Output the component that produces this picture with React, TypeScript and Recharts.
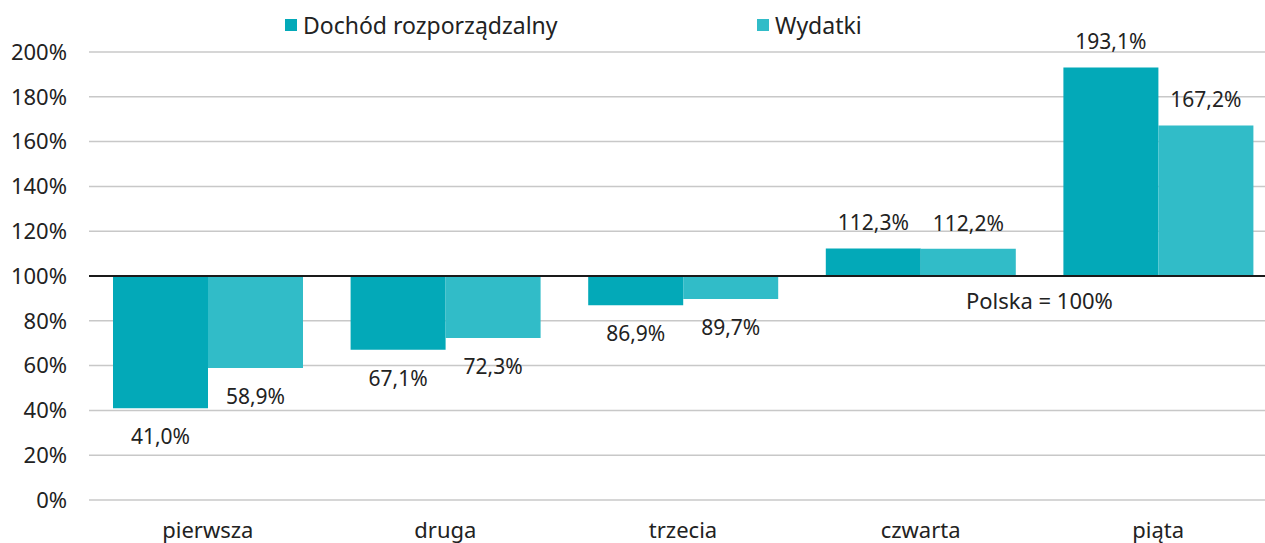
import { Bar, BarChart, CartesianGrid, LabelList, ReferenceLine, XAxis, YAxis } from "recharts";

const categories = ["pierwsza", "druga", "trzecia", "czwarta", "piąta"];
const dochod = [41.0, 67.1, 86.9, 112.3, 193.1];
const wydatki = [58.9, 72.3, 89.7, 112.2, 167.2];
const yTicks = [0, 20, 40, 60, 80, 100, 120, 140, 160, 180, 200];

const COLOR_DOCHOD = "#03a9b8";
const COLOR_WYDATKI = "#31bcc8";
const TEXT = "#222222";
const FONT = "'Noto Sans', 'Open Sans', sans-serif";

const data = categories.map((name, i) => ({ name, dochod: dochod[i], wydatki: wydatki[i] }));

const fmt = (v: number) => v.toFixed(1).replace(".", ",") + "%";

// range from the 100% baseline to the value
const fromBase = (v: number) => [Math.min(100, v), Math.max(100, v)];

function ValueLabel(props: any) {
  const { x, y, width, height, value } = props;
  const v = Number(value);
  const cx = Number(x) + Number(width) / 2;
  const top = Math.min(Number(y), Number(y) + Number(height));
  const bottom = Math.max(Number(y), Number(y) + Number(height));
  const ty = v < 100 ? bottom + 28 : top - 26;
  return (
    <text x={cx} y={ty} textAnchor="middle" dominantBaseline="central" fontSize={21} fill={TEXT} fontFamily={FONT}>
      {fmt(v)}
    </text>
  );
}

function PolskaLabel(props: any) {
  const { viewBox } = props;
  return (
    <text
      x={viewBox.x + viewBox.width * 0.8}
      y={viewBox.y + 24}
      textAnchor="middle"
      dominantBaseline="central"
      fontSize={22}
      fill={TEXT}
      fontFamily={FONT}
    >
      Polska = 100%
    </text>
  );
}

function LegendItem({ color, label, left }: { color: string; label: string; left: number }) {
  return (
    <div style={{ position: "absolute", left, top: 9, display: "flex", alignItems: "center", gap: 6 }}>
      <div style={{ width: 12, height: 12, background: color }} />
      <span style={{ fontSize: 23, color: TEXT, fontFamily: FONT }}>{label}</span>
    </div>
  );
}

export default function App() {
  return (
    <div
      style={{ position: "absolute", left: 0, top: 0, width: 1265, height: 543, background: "#fff", overflow: "hidden" }}
    >
      <LegendItem color={COLOR_DOCHOD} label="Dochód rozporządzalny" left={285} />
      <LegendItem color={COLOR_WYDATKI} label="Wydatki" left={757} />
      <BarChart
        width={1277}
        height={543}
        data={data}
        margin={{ top: 52, right: 0, bottom: 0, left: 0 }}
        barCategoryGap={24}
        barGap={0}
      >
        <CartesianGrid vertical={false} stroke="#c8c8c8" strokeWidth={1.5} />
        <XAxis
          dataKey="name"
          axisLine={false}
          tickLine={false}
          height={43}
          tickMargin={16}
          tick={{ fontSize: 22, fill: TEXT, fontFamily: FONT }}
        />
        <YAxis
          domain={[0, 200]}
          ticks={yTicks}
          width={89}
          axisLine={false}
          tickLine={false}
          tickMargin={16}
          tickFormatter={(v: number) => `${v}%`}
          tick={{ fontSize: 22, fill: TEXT, fontFamily: FONT }}
        />
        <Bar dataKey={(d: any) => fromBase(d.dochod)} fill={COLOR_DOCHOD} isAnimationActive={false}>
          <LabelList dataKey="dochod" content={ValueLabel} />
        </Bar>
        <Bar dataKey={(d: any) => fromBase(d.wydatki)} fill={COLOR_WYDATKI} isAnimationActive={false}>
          <LabelList dataKey="wydatki" content={ValueLabel} />
        </Bar>
        <ReferenceLine y={100} stroke="#1a1a1a" strokeWidth={2} label={PolskaLabel} />
      </BarChart>
    </div>
  );
}
